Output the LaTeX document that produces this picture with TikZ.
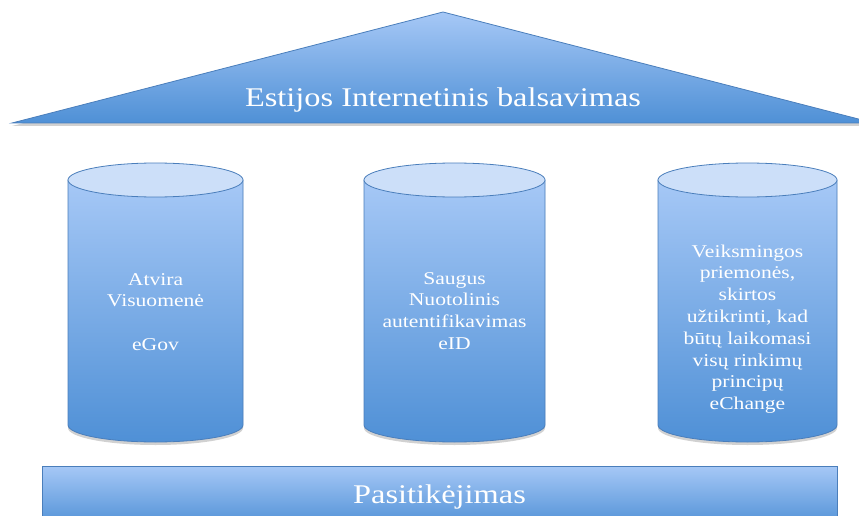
\documentclass[tikz,border=0pt]{standalone}
\usepackage{fontspec}
\newfontfamily\tfont[FakeStretch=1.2]{Liberation Serif}
\definecolor{edgeblue}{RGB}{74,126,187}
\definecolor{lightblue}{RGB}{166,200,246}
\definecolor{darkblue}{RGB}{79,144,214}
\definecolor{capblue}{RGB}{204,223,249}
\tikzset{
  shapefill/.style={top color=lightblue, bottom color=darkblue, draw=edgeblue, line width=0.8pt},
  shadowfill/.style={fill=black, opacity=0.18},
  bigtext/.style={text=white, font=\tfont\fontsize{27}{30}\selectfont, inner sep=0pt},
  cyltext/.style={text=white, align=center, font=\tfont\fontsize{18}{21.8}\selectfont, inner sep=0pt}
}
\begin{document}
\begin{tikzpicture}[x=1pt,y=-1pt]
\useasboundingbox (0,0) rectangle (859,516);
\clip (0,0) rectangle (859,516);
% roof
\fill[shadowfill] (12,126) -- (443,15) -- (874,126) -- cycle;
\path[shapefill] (12,123) -- (443,12) -- (874,123) -- cycle;
\node[bigtext, anchor=base] (roof) at (443,107) {Estijos Internetinis balsavimas};
% cylinders
\foreach \cx/\rx/\nm in {155.5/87.5/c1, 454.5/90.5/c2, 747.5/89.5/c3} {
  \fill[shadowfill] (\cx-\rx,183) -- (\cx-\rx,428) arc[start angle=180,end angle=0,x radius=\rx,y radius=17] -- (\cx+\rx,183) -- cycle;
  \path[shapefill] (\cx-\rx,180) -- (\cx-\rx,425) arc[start angle=180,end angle=0,x radius=\rx,y radius=17] -- (\cx+\rx,180) -- cycle;
  \path[fill=capblue, draw=edgeblue, line width=0.8pt] (\cx,180) ellipse[x radius=\rx, y radius=17];
}
\node[cyltext] (t1) at (155.5,312) {Atvira\\Visuomenė\\[21.8pt]eGov};
\node[cyltext] (t2) at (454.5,311) {Saugus\\Nuotolinis\\autentifikavimas\\eID};
\node[cyltext] (t3) at (747.5,329) {Veiksmingos\\priemonės,\\skirtos\\užtikrinti, kad\\būtų laikomasi\\visų rinkimų\\principų\\eChange};
% base bar
\fill[shadowfill] (42,469) rectangle (837,530);
\path[shapefill] (42,466) rectangle (837,527);
\node[bigtext, anchor=base] (base) at (439.5,503) {Pasitikėjimas};
\end{tikzpicture}
\end{document}
